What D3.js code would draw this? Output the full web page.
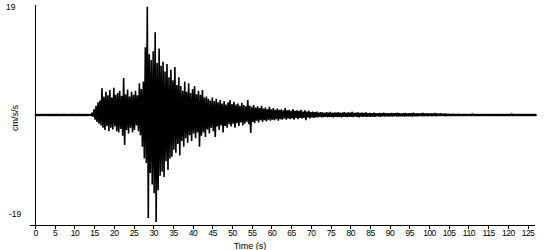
<!DOCTYPE html>
<html>
<head>
<meta charset="utf-8">
<script src="https://cdn.jsdelivr.net/npm/d3@7"></script>
<style>
  body { margin: 0; background: #fff; }
  text { font-family: "Liberation Sans", Arial, sans-serif; fill: #000; }
</style>
</head>
<body>
<svg id="chart" width="550" height="250"></svg>
<script>
// acceleration record, peaks read every 0.5 s from t = 0 s
var startTime = 0;
var sampleStep = 0.5;

var peakUp = [
  0.12, 0.12, 0.12, 0.12, 0.12, 0.12, 0.12, 0.12, 0.12, 0.12, 0.12, 0.12, 0.12, 0.12, 0.12, 0.12, 0.12, 0.12, 0.12, 0.12,
  0.12, 0.12, 0.12, 0.12, 0.12, 0.12, 0.12, 0.12, 0.15, 0.4, 1.0, 1.6, 2.2, 2.5, 4.6, 3.2, 4.0, 3.4, 4.3, 3.0,
  4.7, 3.5, 3.8, 4.2, 3.3, 6.4, 3.6, 4.4, 3.2, 4.0, 3.5, 4.2, 3.4, 5.5, 4.5, 5.8, 11.7, 18.7, 10.5, 9.5,
  11.0, 14.3, 9.0, 11.5, 8.5, 9.2, 7.5, 8.8, 6.5, 7.8, 6.0, 8.3, 5.2, 6.5, 5.0, 4.2, 5.8, 4.0, 5.5, 3.8,
  4.5, 5.0, 3.6, 4.2, 3.5, 4.3, 3.0, 3.2, 2.8, 2.5, 3.0, 2.4, 2.8, 2.2, 2.6, 2.0, 2.4, 1.8, 2.2, 2.6,
  1.9, 2.3, 1.8, 2.0, 1.6, 2.1, 1.7, 1.5, 2.6, 1.6, 1.4, 1.7, 1.3, 1.5, 1.2, 1.6, 1.1, 1.3, 1.0, 1.4,
  1.0, 1.2, 0.9, 1.1, 0.9, 1.0, 0.8, 1.2, 0.8, 0.9, 0.7, 1.0, 0.7, 0.8, 0.7, 0.9, 0.6, 0.8, 0.6, 0.7,
  0.5, 0.6, 0.5, 0.6, 0.4, 0.5, 0.45, 0.35, 0.5, 0.4, 0.55, 0.35, 0.45, 0.4, 0.5, 0.35, 0.4, 0.5, 0.35, 0.45,
  0.4, 0.55, 0.35, 0.4, 0.45, 0.35, 0.4, 0.35, 0.45, 0.3, 0.35, 0.3, 0.4, 0.3, 0.3, 0.35, 0.3, 0.4, 0.3, 0.3,
  0.3, 0.35, 0.3, 0.3, 0.4, 0.3, 0.25, 0.3, 0.35, 0.25, 0.3, 0.3, 0.4, 0.25, 0.3, 0.25, 0.3, 0.35, 0.25, 0.3,
  0.25, 0.3, 0.25, 0.35, 0.25, 0.25, 0.3, 0.2, 0.25, 0.2, 0.2, 0.15, 0.2, 0.15, 0.15, 0.2, 0.15, 0.15, 0.15, 0.15,
  0.15, 0.15, 0.25, 0.15, 0.15, 0.15, 0.15, 0.15, 0.15, 0.15, 0.15, 0.15, 0.15, 0.15, 0.15, 0.15, 0.15, 0.15, 0.15, 0.15,
  0.15, 0.15, 0.25, 0.15, 0.15, 0.15, 0.15, 0.15, 0.15, 0.15, 0.15, 0.15, 0.15, 0.15, 0.15
];

var peakDown = [
  -0.12, -0.12, -0.12, -0.12, -0.12, -0.12, -0.12, -0.12, -0.12, -0.12, -0.12, -0.12, -0.12, -0.12, -0.12, -0.12, -0.12, -0.12, -0.12, -0.12,
  -0.12, -0.12, -0.12, -0.12, -0.12, -0.12, -0.12, -0.12, -0.15, -0.3, -0.8, -1.2, -1.5, -1.8, -2.2, -2.6, -1.9, -2.8, -2.2, -2.5,
  -2.0, -2.8, -3.0, -2.4, -3.6, -5.2, -2.6, -3.2, -2.2, -3.0, -2.6, -1.8, -2.8, -3.5, -5.5, -7.5, -8.3, -17.8, -10.0, -12.0,
  -13.5, -18.5, -13.0, -10.5, -9.8, -10.7, -8.0, -9.5, -7.5, -7.2, -6.0, -6.5, -5.0, -7.0, -4.5, -5.5, -4.0, -4.8, -3.5, -4.5,
  -3.2, -4.0, -3.0, -5.5, -3.6, -3.0, -3.8, -2.5, -3.2, -2.2, -2.8, -3.8, -2.0, -2.6, -1.8, -3.0, -1.9, -2.2, -1.6, -2.0,
  -1.5, -2.2, -1.4, -1.9, -1.3, -1.8, -1.5, -1.2, -1.6, -3.1, -1.2, -1.4, -1.0, -1.3, -0.9, -1.2, -0.9, -1.1, -0.8, -1.0,
  -0.8, -0.9, -0.7, -1.0, -0.7, -0.8, -0.6, -0.8, -0.6, -0.7, -0.6, -0.8, -0.5, -0.7, -0.5, -0.6, -0.5, -0.9, -0.4, -0.6,
  -0.4, -0.5, -0.4, -0.4, -0.3, -0.4, -0.35, -0.3, -0.4, -0.3, -0.35, -0.4, -0.3, -0.35, -0.3, -0.4, -0.3, -0.3, -0.35, -0.3,
  -0.3, -0.35, -0.25, -0.3, -0.4, -0.25, -0.3, -0.25, -0.3, -0.25, -0.3, -0.25, -0.3, -0.2, -0.25, -0.3, -0.2, -0.25, -0.2, -0.25,
  -0.2, -0.25, -0.2, -0.2, -0.25, -0.2, -0.2, -0.25, -0.2, -0.2, -0.2, -0.25, -0.2, -0.2, -0.2, -0.15, -0.2, -0.2, -0.15, -0.2,
  -0.15, -0.2, -0.15, -0.2, -0.15, -0.15, -0.15, -0.15, -0.2, -0.15, -0.15, -0.15, -0.15, -0.15, -0.15, -0.15, -0.15, -0.15, -0.15, -0.15,
  -0.15, -0.15, -0.15, -0.15, -0.15, -0.15, -0.15, -0.15, -0.15, -0.15, -0.15, -0.15, -0.15, -0.15, -0.15, -0.15, -0.15, -0.15, -0.15, -0.15,
  -0.15, -0.15, -0.15, -0.15, -0.15, -0.15, -0.15, -0.15, -0.15, -0.15, -0.15, -0.15, -0.15, -0.15, -0.15
];

var xTicks = [0, 5, 10, 15, 20, 25, 30, 35, 40, 45, 50, 55, 60, 65, 70, 75, 80, 85, 90, 95, 100, 105, 110, 115, 120, 125];
var yLimits = [-19, 19];
var xLabel = "Time (s)";
var yLabel = "cm/s/s";

var svg = d3.select("#chart");

var x = d3.scaleLinear()
  .domain([0, 125])
  .range([35, 527.5]);

var y = d3.scaleLinear()
  .domain(yLimits)
  .range([225, 5]);

// zig-zag: each sample goes up to its positive peak, then down to its negative peak
var pts = [];
peakUp.forEach(function(d, i) {
  var t = startTime + i * sampleStep;
  pts.push([t, d]);
  pts.push([t + sampleStep / 2, peakDown[i]]);
});

var line = d3.line()
  .x(function(d) { return x(d[0]); })
  .y(function(d) { return y(d[1]); });

svg.append("path")
  .datum(pts)
  .attr("d", line)
  .attr("fill", "none")
  .attr("stroke", "#000")
  .attr("stroke-width", 1.6)
  .attr("stroke-linejoin", "miter")
  .attr("stroke-miterlimit", 1);

// y axis line
svg.append("line")
  .attr("x1", 35.5).attr("x2", 35.5)
  .attr("y1", y(yLimits[1])).attr("y2", y(yLimits[0]))
  .attr("stroke", "#000")
  .attr("shape-rendering", "crispEdges");

// x axis
var xAxis = d3.axisBottom(x)
  .tickValues(xTicks)
  .tickSize(4)
  .tickSizeOuter(0);

var gx = svg.append("g")
  .attr("transform", "translate(0,225)")
  .call(xAxis);

gx.select(".domain").remove();
gx.selectAll(".tick line").attr("shape-rendering", "crispEdges");
gx.selectAll(".tick text")
  .attr("y", 5)
  .attr("font-size", "8.5px")
  .attr("letter-spacing", "-0.5px")
  .attr("font-family", "Liberation Sans, Arial, sans-serif");

svg.append("line")
  .attr("x1", 30).attr("x2", 535)
  .attr("y1", 225.5).attr("y2", 225.5)
  .attr("stroke", "#000")
  .attr("shape-rendering", "crispEdges");

svg.append("text")
  .attr("x", 6)
  .attr("y", 10)
  .attr("font-size", "8.5px")
  .text(yLimits[1]);

svg.append("text")
  .attr("x", 9)
  .attr("y", 217)
  .attr("font-size", "8.5px")
  .text(yLimits[0]);

svg.append("text")
  .attr("x", 250)
  .attr("y", 249)
  .attr("text-anchor", "middle")
  .attr("font-size", "9px")
  .text(xLabel);

svg.append("text")
  .attr("transform", "translate(18,118) rotate(-90)")
  .attr("text-anchor", "middle")
  .attr("font-size", "9px")
  .text(yLabel);
</script>
</body>
</html>
